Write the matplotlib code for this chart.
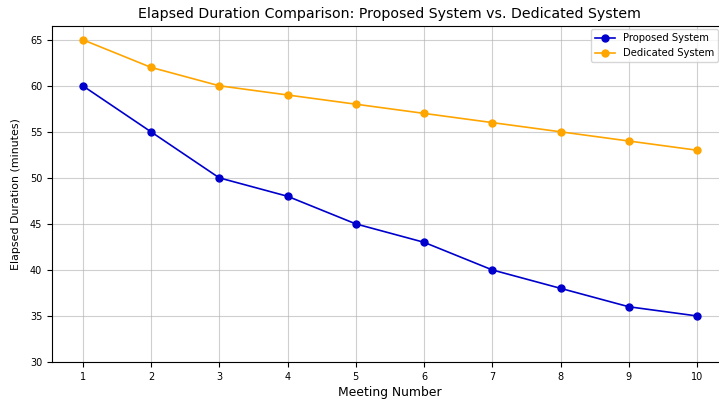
import matplotlib.pyplot as plt

# data
meetings = [1, 2, 3, 4, 5, 6, 7, 8, 9, 10]
proposed = [60, 55, 50, 48, 45, 43, 40, 38, 36, 35]
dedicated = [65, 62, 60, 59, 58, 57, 56, 55, 54, 53]

fig = plt.figure(figsize=(7.19, 4.03), dpi=100)
# the right edge of the original figure was cut off
ax = fig.add_axes([0.0723, 0.1017, 0.940, 0.834])

ax.plot(meetings, proposed, marker='o', color='mediumblue', linewidth=1.2,
        markersize=5, label='Proposed System')
ax.plot(meetings, dedicated, marker='o', color='orange', linewidth=1.2,
        markersize=5, label='Dedicated System')

ax.set_title('Elapsed Duration Comparison: Proposed System vs. Dedicated System', fontsize=10.2)
ax.set_xlabel('Meeting Number', fontsize=8.9, labelpad=3)
ax.set_ylabel('Elapsed Duration (minutes)', fontsize=7.9, labelpad=6)
ax.set_xticks(meetings)
ax.set_ylim(bottom=30)
ax.tick_params(labelsize=7)
ax.grid(True, alpha=0.6)
ax.legend(loc='upper right', fontsize=7.2, borderaxespad=0,
          bbox_to_anchor=(0.999, 0.928), bbox_transform=fig.transFigure)

fig.savefig('out.png', dpi=100)
